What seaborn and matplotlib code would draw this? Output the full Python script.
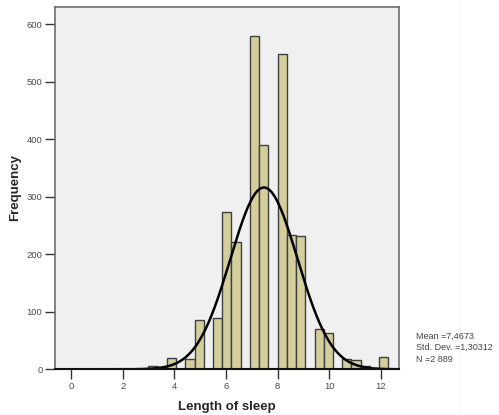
import numpy as np
import pandas as pd
import matplotlib
matplotlib.use("Agg")
import matplotlib.pyplot as plt
import seaborn as sns
from matplotlib.lines import Line2D

# Histogram of "Length of sleep" (SPSS-style output)
bin_width = 0.3577
first_edge = 2.99
counts = [5, 0, 20, 0, 18, 85, 0, 89, 274, 222, 0, 580, 391, 0,
          548, 234, 232, 0, 70, 63, 0, 18, 17, 6, 0, 21]

mean_val = 7.4673
std_val = 1.30312
n_val = 2889
stats_lines = ["Mean =7,4673", "Std. Dev. =1,30312", "N =2 889"]

edges = first_edge + bin_width * np.arange(len(counts) + 1)
centers = (edges[:-1] + edges[1:]) / 2
df = pd.DataFrame({"sleep": centers, "count": counts})

sns.set_style("white")
plt.rcParams['font.family'] = ['Liberation Sans', 'DejaVu Sans']

fig = plt.figure(figsize=(4.99, 4.15), dpi=100)
ax = fig.add_axes([0.1102, 0.1101, 0.6894, 0.8738])
ax.set_facecolor("#f0f0f0")

sns.histplot(data=df, x="sleep", weights="count", bins=edges.tolist(), ax=ax,
             color="#d3ce9b", alpha=1, edgecolor="#404040", linewidth=1.0)

# normal curve from the reported mean / sd / N
xs = np.linspace(-0.63, 12.70, 400)
ys = n_val * bin_width / (std_val * np.sqrt(2 * np.pi)) * np.exp(-0.5 * ((xs - mean_val) / std_val) ** 2)
ax.plot(xs, ys, color="black", lw=1.8)

ax.set_xlim(-0.63, 12.70)
ax.set_ylim(0, 631)
ax.set_xticks([0, 2, 4, 6, 8, 10, 12])
ax.set_yticks([0, 100, 200, 300, 400, 500, 600])
ax.tick_params(axis="both", direction="out", length=7, width=1.0, color="#333333",
               labelsize=6.8, labelcolor="#4a4a4a", pad=2, left=True, bottom=True)

for side in ["top", "right", "left"]:
    ax.spines[side].set_color("#6e6e6e")
    ax.spines[side].set_linewidth(1.2)
ax.spines["bottom"].set_color("#111111")
ax.spines["bottom"].set_linewidth(1.5)

ax.set_xlabel("Length of sleep", fontsize=9.5, fontweight="bold", labelpad=7)
ax.set_ylabel("Frequency", fontsize=9.5, fontweight="bold", labelpad=4)

y0 = 1 - 336 / 415
for i, line in enumerate(stats_lines):
    fig.text(416 / 499, y0 - i * 11.5 / 415, line, fontsize=6.5, color="#444444",
             va="center", ha="left")

# faint divider seen at the right of the output window
fig.add_artist(Line2D([460 / 499, 460 / 499], [0, 1], color="#f9f9f9", lw=1))

fig.savefig("out.png", dpi=100, facecolor="white")
